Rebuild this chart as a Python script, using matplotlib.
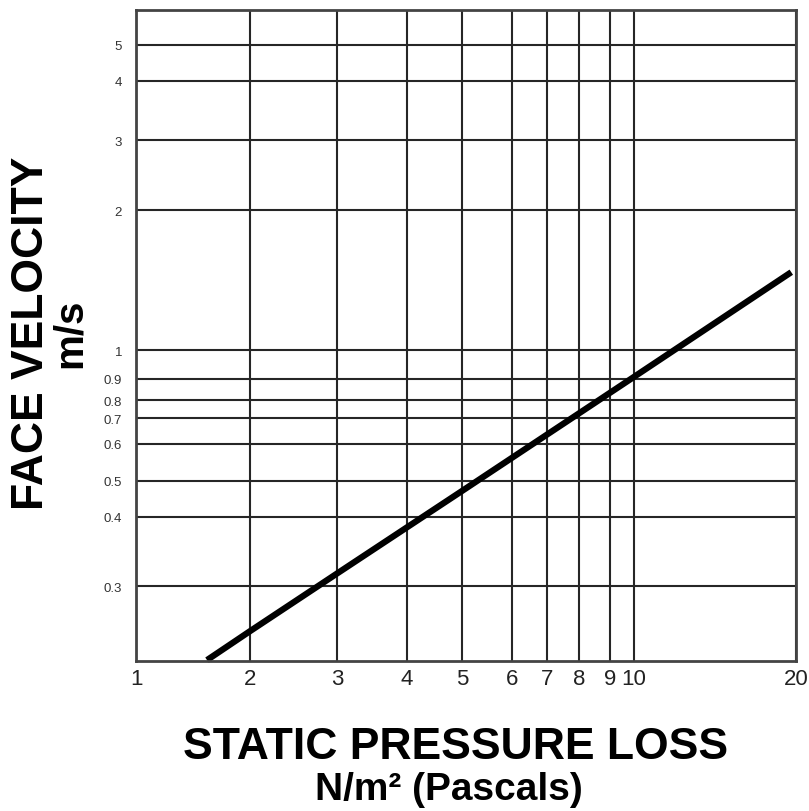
import numpy as np
import matplotlib
matplotlib.use("Agg")
import matplotlib.pyplot as plt

plt.rcParams['font.family'] = ['Liberation Sans', 'DejaVu Sans']

# Chart data
pressure = [1.54, 2, 3, 5, 10, 19.6]               # N/m2
velocity = [0.201, 0.235, 0.316, 0.47, 0.907, 1.47]  # m/s

x_ticks = [1, 2, 3, 4, 5, 6, 7, 8, 9, 10, 20]
y_ticks = [0.3, 0.4, 0.5, 0.6, 0.7, 0.8, 0.9, 1, 2, 3, 4, 5]
y_tick_labels = ['0.3', '0.4', '0.5', '0.6', '0.7', '0.8', '0.9', '1', '2', '3', '4', '5']

# The printed chart's log grid is hand-drawn, so calibrate the scales to it
x_cal = np.array([1, 2, 3, 4, 5, 6, 7, 8, 9, 10, 20])
x_pos = np.array([136, 250, 337, 407, 462, 512, 547, 579, 610, 634, 796])
y_cal = np.array([0.2, 0.3, 0.4, 0.5, 0.6, 0.7, 0.8, 0.9, 1, 2, 3, 4, 5, 6])
y_pos = 812 - np.array([662, 587, 518, 482, 445, 419, 401, 380, 351, 211, 141, 82, 46, 11])


def x_fwd(v):
    return np.interp(np.log10(np.clip(v, 1e-9, None)), np.log10(x_cal), x_pos)


def x_inv(p):
    return 10 ** np.interp(p, x_pos, np.log10(x_cal))


def y_fwd(v):
    return np.interp(np.log10(np.clip(v, 1e-9, None)), np.log10(y_cal), y_pos)


def y_inv(p):
    return 10 ** np.interp(p, y_pos, np.log10(y_cal))


fig = plt.figure(figsize=(8.09, 8.12), dpi=100)
ax = fig.add_axes([136 / 809, 150 / 812, 660 / 809, 651 / 812])

ax.set_xscale('function', functions=(x_fwd, x_inv))
ax.set_yscale('function', functions=(y_fwd, y_inv))
ax.set_xlim(1, 20)
ax.set_ylim(0.2, 6)

ax.set_xticks(x_ticks)
ax.set_xticklabels([str(t) for t in x_ticks])
ax.set_yticks(y_ticks)
ax.set_yticklabels(y_tick_labels)
ax.minorticks_off()

ax.grid(True, color='#262626', linewidth=1.5)
ax.set_axisbelow(True)
for s in ax.spines.values():
    s.set_color('#444444')
    s.set_linewidth(2)

ax.tick_params(axis='both', length=0)
ax.tick_params(axis='x', labelsize=16, colors='#222222', pad=5)
ax.tick_params(axis='y', labelsize=9.5, colors='#333333', pad=10)

ax.plot(pressure, velocity, color='black', linewidth=4.5, solid_capstyle='butt', clip_on=False)

fig.text(456 / 809, 1 - 748 / 812, 'STATIC PRESSURE LOSS', ha='center', va='center',
         fontsize=32, fontweight='bold')
fig.text(449 / 809, 1 - 790 / 812, 'N/m² (Pascals)', ha='center', va='center',
         fontsize=28, fontweight='bold')
fig.text(32 / 809, 1 - 333 / 812, 'FACE VELOCITY', ha='center', va='center',
         rotation=90, fontsize=32, fontweight='bold')
fig.text(70 / 809, 1 - 333 / 812, 'm/s', ha='center', va='center',
         rotation=90, fontsize=29, fontweight='bold')

fig.savefig('out.png', dpi=100, facecolor='white')
